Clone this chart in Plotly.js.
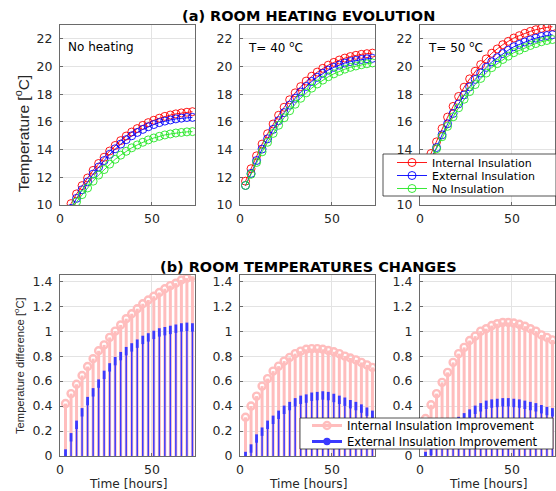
<!DOCTYPE html>
<html>
<head>
<meta charset="utf-8">
<script src="https://cdn.plot.ly/plotly-3.0.1.min.js"></script>
<style>html,body{margin:0;padding:0;background:#fff;}#chart{width:556px;height:491px;}</style>
</head>
<body>
<div id="chart"></div>
<script>
// ---- data (hours) ----
const hours = [3,6,9,12,15,18,21,24,27,30,33,36,39,42,45,48,51,54,57,60,63,66,69,72];

// (a) room heating evolution [°C]
const intNoHeat  = [9.6,10.1,10.8,11.4,11.95,12.5,13.0,13.45,13.9,14.3,14.65,14.98,15.27,15.52,15.75,15.95,16.12,16.27,16.4,16.5,16.58,16.65,16.7,16.74];
const extNoHeat  = [9.2,9.75,10.48,11.1,11.67,12.23,12.74,13.21,13.66,14.06,14.4,14.72,15.0,15.24,15.46,15.65,15.81,15.95,16.06,16.14,16.22,16.27,16.32,16.33];
const noneNoHeat = [9.18,9.6,10.23,10.75,11.23,11.72,12.16,12.56,12.95,13.3,13.6,13.88,14.13,14.34,14.53,14.7,14.84,14.96,15.06,15.13,15.2,15.24,15.28,15.3];

const int40  = [11.72,12.62,13.55,14.4,15.15,15.85,16.48,17.06,17.6,18.1,18.55,18.95,19.3,19.6,19.87,20.1,20.3,20.47,20.61,20.72,20.81,20.88,20.93,20.97];
const ext40  = [11.41,12.28,13.21,14.04,14.78,15.46,16.09,16.67,17.21,17.71,18.16,18.56,18.92,19.22,19.51,19.74,19.94,20.1,20.25,20.36,20.44,20.51,20.56,20.59];
const none40 = [11.41,12.22,13.07,13.84,14.53,15.17,15.76,16.3,16.81,17.28,17.71,18.1,18.44,18.74,19.02,19.26,19.47,19.65,19.81,19.94,20.04,20.13,20.2,20.26];

const int50  = [12.85,13.72,14.56,15.52,16.35,17.12,17.84,18.51,19.11,19.66,20.14,20.55,20.96,21.27,21.58,21.82,22.06,22.23,22.4,22.54,22.66,22.76,22.83,22.88];
const ext50  = [12.55,13.35,14.15,15.07,15.87,16.61,17.3,17.95,18.53,19.07,19.53,19.94,20.34,20.64,20.94,21.18,21.43,21.6,21.77,21.92,22.05,22.17,22.24,22.3];
const none50 = [12.55,13.31,14.06,14.93,15.68,16.37,17.02,17.64,18.19,18.7,19.14,19.53,19.92,20.21,20.51,20.75,21.0,21.18,21.36,21.52,21.66,21.79,21.88,21.95];

// (b) room temperature changes [°C]
const intImpNoHeat = [0.42,0.50,0.575,0.645,0.717,0.78,0.843,0.89,0.95,1.0,1.05,1.10,1.14,1.18,1.22,1.25,1.28,1.31,1.34,1.365,1.385,1.41,1.425,1.44];
const extImpNoHeat = [0.02,0.15,0.25,0.35,0.44,0.51,0.58,0.65,0.71,0.76,0.80,0.84,0.87,0.90,0.93,0.95,0.97,0.99,1.0,1.01,1.02,1.03,1.035,1.03];
const intImp40 = [0.31,0.40,0.48,0.56,0.62,0.68,0.72,0.76,0.79,0.82,0.84,0.855,0.86,0.86,0.855,0.845,0.835,0.82,0.80,0.785,0.77,0.75,0.73,0.71];
const extImp40 = [0.0,0.06,0.14,0.195,0.25,0.29,0.33,0.37,0.40,0.43,0.45,0.46,0.475,0.48,0.485,0.48,0.465,0.45,0.435,0.415,0.40,0.38,0.355,0.33];
const intImp50 = [0.30,0.41,0.50,0.59,0.67,0.75,0.82,0.87,0.925,0.96,1.0,1.02,1.045,1.06,1.07,1.07,1.065,1.055,1.04,1.02,1.0,0.97,0.95,0.93];
const extImp50 = [0.0,0.04,0.09,0.14,0.19,0.24,0.28,0.31,0.34,0.37,0.39,0.41,0.42,0.425,0.43,0.43,0.425,0.42,0.41,0.40,0.39,0.375,0.36,0.35];

const panelLabels = ['No heating', 'T= 40 <sup>o</sup>C', 'T= 50 <sup>o</sup>C'];
const seriesNames = ['Internal Insulation', 'External Insulation', 'No Insulation'];
const stemNames = ['Internal Insulation Improvement', 'External Insulation Improvement'];
const topSets = [[intNoHeat, extNoHeat, noneNoHeat], [int40, ext40, none40], [int50, ext50, none50]];
const botSets = [[intImpNoHeat, extImpNoHeat], [intImp40, extImp40], [intImp50, extImp50]];

// ---- styling ----
const W = 556, H = 491;
const fx = v => v / W, fy = v => 1 - v / H;
const colors = ['#ff0000', '#0000ff', '#22e622'];
const pink = '#ffbdbd', stemBlue = '#3a3aff';
const FONT = 'DejaVu Sans, sans-serif';

const traces = [];
// top panels
topSets.forEach((set, p) => {
  set.forEach((vals, s) => {
    traces.push({
      x: hours, y: vals, type: 'scatter', mode: 'lines+markers',
      xaxis: 'x' + (p + 1), yaxis: 'y' + (p + 1),
      name: seriesNames[s],
      showlegend: p === 2,
      legend: ['legend', 'legend2', 'legend3'][s],
      line: {color: colors[s], width: 0.9},
      marker: {symbol: 'circle-open', size: 8, color: colors[s], line: {width: 0.9, color: colors[s]}},
      hoverinfo: 'x+y'
    });
  });
});
// bottom panels (stems)
const zeros = hours.map(() => 0);
botSets.forEach((set, p) => {
  const ax = p + 4;
  traces.push({
    x: hours, y: set[0], type: 'scatter', mode: 'markers',
    xaxis: 'x' + ax, yaxis: 'y' + ax, showlegend: false, name: stemNames[0],
    marker: {symbol: 'circle-open', size: 7, color: pink, line: {width: 2.4, color: pink}},
    error_y: {type: 'data', symmetric: false, array: zeros, arrayminus: set[0], width: 0, thickness: 3, color: pink}
  });
  traces.push({
    x: hours, y: set[1], type: 'scatter', mode: 'markers',
    xaxis: 'x' + ax, yaxis: 'y' + ax, showlegend: false, name: stemNames[1],
    marker: {symbol: 'line-ns-open', size: 6, color: stemBlue, line: {width: 2.8, color: stemBlue}},
    error_y: {type: 'data', symmetric: false, array: zeros, arrayminus: set[1], width: 0, thickness: 1.5, color: stemBlue}
  });
});
// legend entries for stems
traces.push({x: [null], y: [null], type: 'scatter', mode: 'lines+markers', xaxis: 'x6', yaxis: 'y6',
  name: stemNames[0], legend: 'legend4', line: {color: pink, width: 3},
  marker: {symbol: 'circle-open', size: 7, color: pink, line: {width: 2.4, color: pink}}});
traces.push({x: [null], y: [null], type: 'scatter', mode: 'lines+markers', xaxis: 'x6', yaxis: 'y6',
  name: stemNames[1], legend: 'legend5', line: {color: stemBlue, width: 3},
  marker: {symbol: 'circle-open', size: 5, color: stemBlue, line: {width: 2.4, color: stemBlue}}});

const xDom = [[60, 195], [240, 375], [420, 555]];
const topY = [25, 205], botY = [275, 456];
const layout = {
  width: W, height: H, margin: {l: 0, r: 0, t: 0, b: 0},
  paper_bgcolor: '#fff', plot_bgcolor: '#fff', showlegend: true,
  annotations: [], shapes: []
};
const axisBase = {
  showgrid: true, gridcolor: '#e3e3e3', gridwidth: 1,
  showline: true, mirror: true, linecolor: '#6a6a6a', linewidth: 1,
  ticks: 'inside', ticklen: 3, tickcolor: '#6a6a6a', zeroline: false,
  tickfont: {family: FONT, size: 12.5, color: '#262626'}
};
for (let i = 1; i <= 6; i++) {
  const col = (i - 1) % 3;
  const top = i <= 3;
  const yd = top ? topY : botY;
  layout['xaxis' + i] = Object.assign({}, axisBase, {
    domain: [fx(xDom[col][0]), fx(xDom[col][1])], anchor: 'y' + i,
    range: [0, 73.4], tick0: 0, dtick: 50, ticklabelstandoff: 2
  });
  layout['yaxis' + i] = Object.assign({}, axisBase, {
    domain: [fy(yd[1]), fy(yd[0])], anchor: 'x' + i,
    range: top ? [10, 23] : [0, 1.45], tick0: 0, dtick: top ? 2 : 0.2, ticklabelstandoff: 4
  });
}
// titles
layout.annotations.push({text: '<b>(a) ROOM HEATING EVOLUTION</b>', x: fx(308), y: fy(16), xref: 'paper', yref: 'paper',
  showarrow: false, xanchor: 'center', yanchor: 'middle', font: {family: FONT, size: 14.5, color: '#000'}});
layout.annotations.push({text: '<b>(b) ROOM TEMPERATURES CHANGES</b>', x: fx(308), y: fy(267), xref: 'paper', yref: 'paper',
  showarrow: false, xanchor: 'center', yanchor: 'middle', font: {family: FONT, size: 14.5, color: '#000'}});
// panel labels
panelLabels.forEach((t, p) => {
  layout.annotations.push({text: t, x: fx(xDom[p][0] + 6), y: fy(47), xref: 'paper', yref: 'paper',
    showarrow: false, xanchor: 'left', yanchor: 'middle', font: {family: FONT, size: 12, color: '#000'}});
});
// axis titles
layout.annotations.push({text: 'Temperature [<sup>o</sup>C]', x: fx(22), y: fy(134), xref: 'paper', yref: 'paper', textangle: -90,
  showarrow: false, xanchor: 'center', yanchor: 'middle', font: {family: 'Liberation Sans, Arial, sans-serif', size: 15.5, color: '#262626'}});
layout.annotations.push({text: 'Temperature difference [<sup>o</sup>C]', x: fx(19), y: fy(366), xref: 'paper', yref: 'paper', textangle: -90,
  showarrow: false, xanchor: 'center', yanchor: 'middle', font: {family: 'Liberation Sans, Arial, sans-serif', size: 11.2, color: '#262626'}});
xDom.forEach(d => {
  layout.annotations.push({text: 'Time [hours]', x: fx((d[0] + d[1]) / 2), y: fy(483.5), xref: 'paper', yref: 'paper',
    showarrow: false, xanchor: 'center', yanchor: 'middle', font: {family: FONT, size: 12.2, color: '#262626'}});
});
// legend boxes
layout.shapes.push({type: 'rect', xref: 'paper', yref: 'paper', x0: fx(383), x1: fx(556), y0: fy(196), y1: fy(154),
  fillcolor: '#fff', line: {color: '#262626', width: 0.8}, layer: 'above'});
layout.shapes.push({type: 'rect', xref: 'paper', yref: 'paper', x0: fx(300), x1: fx(553), y0: fy(449), y1: fy(418),
  fillcolor: '#fff', line: {color: '#262626', width: 0.8}, layer: 'above'});
const legBase = {xanchor: 'left', yanchor: 'middle', bgcolor: 'rgba(0,0,0,0)', borderwidth: 0, itemwidth: 30,
  tracegroupgap: 0, font: {family: FONT, size: 11, color: '#000'}};
layout.legend  = Object.assign({}, legBase, {x: fx(392), y: fy(162.5)});
layout.legend2 = Object.assign({}, legBase, {x: fx(392), y: fy(175.5)});
layout.legend3 = Object.assign({}, legBase, {x: fx(392), y: fy(188.5)});
layout.legend4 = Object.assign({}, legBase, {x: fx(307), y: fy(425.5), font: {family: FONT, size: 11.6, color: '#000'}});
layout.legend5 = Object.assign({}, legBase, {x: fx(307), y: fy(441.5), font: {family: FONT, size: 11.6, color: '#000'}});

Plotly.newPlot('chart', traces, layout, {staticPlot: true, displayModeBar: false});
</script>
</body>
</html>
